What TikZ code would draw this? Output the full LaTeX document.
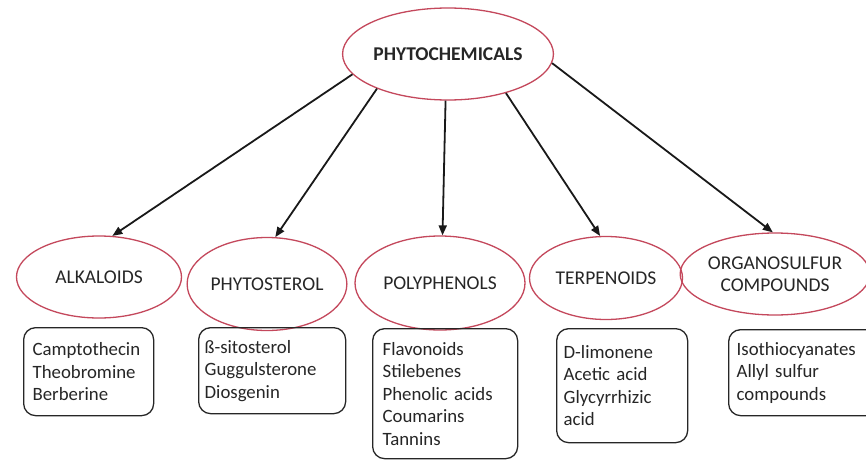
\documentclass[tikz,border=0pt]{standalone}
\usepackage{fontspec}
\setmainfont{Carlito}
\usetikzlibrary{shapes.geometric,arrows.meta}
\definecolor{ellred}{RGB}{196,72,92}
\tikzset{
  cat/.style={ellipse,draw=ellred,line width=1.3pt,inner sep=0pt,align=center,
    font=\fontsize{19.5}{22}\selectfont,text=black!85},
  listbox/.style={draw=black!85,line width=1.3pt,rounded corners=12pt,align=left,
    anchor=north west,inner xsep=9pt,inner ysep=0pt,
    font=\fontsize{18.8}{22.5}\selectfont,text=black!85},
  link/.style={line width=1.8pt,black!90,-{Triangle[length=10pt,width=8pt]}}
}
\begin{document}
\begin{tikzpicture}[x=1pt,y=-1pt]
\useasboundingbox (0,0) rectangle (866,460);
\clip (0,0) rectangle (866,460);
\fill[white] (0,0) rectangle (866,460);

\node[cat,minimum width=207pt,minimum height=92pt,font=\bfseries\fontsize{19.5}{22}\selectfont] (top) at (448,54) {PHYTOCHEMICALS};

\node[cat,minimum width=165pt,minimum height=82pt] (e1) at (99,277) {ALKALOIDS};
\node[cat,minimum width=155pt,minimum height=93pt] (e2) at (267,284) {PHYTOSTEROL};
\node[cat,minimum width=170pt,minimum height=94pt] (e3) at (440,283) {POLYPHENOLS};
\node[cat,minimum width=153pt,minimum height=83pt] (e4) at (606,278) {TERPENOIDS};
\node[cat,minimum width=150pt,minimum height=82pt] (e5) at (775,274) {ORGANOSULFUR\\COMPOUNDS};

\node[listbox,minimum width=130pt,minimum height=88pt,text width=112pt] (b1) at (23,327)
  {Camptothecin\\Theobromine\\Berberine};
\node[listbox,minimum width=147pt,minimum height=86pt,text width=135pt,inner xsep=6pt] (b2) at (198,327)
  {ß-sitosterol\\Guggulsterone\\Diosgenin};
\node[listbox,minimum width=145pt,minimum height=130pt,text width=125pt,inner xsep=10pt] (b3) at (372,328)
  {Flavonoids\\Stilebenes\\Phenolic acids\\Coumarins\\Tannins};
\node[listbox,minimum width=131pt,minimum height=114pt,text width=117pt,inner xsep=7pt] (b4) at (556,328)
  {D-limonene\\Acetic acid\\Glycyrrhizic\\acid};
\node[listbox,minimum width=150pt,minimum height=86pt,text width=134pt,inner xsep=8pt] (b5) at (728,329)
  {Isothiocyanates\\Allyl sulfur\\compounds};

\draw[link] (top.192) -- (e1.72);
\draw[link] (top.206) -- (e2.80);
\draw[link] (top.267) -- (e3.87);
\draw[link] (top.326) -- (e4.98);
\draw[link] (top.355) -- (e5.93);
\end{tikzpicture}
\end{document}
